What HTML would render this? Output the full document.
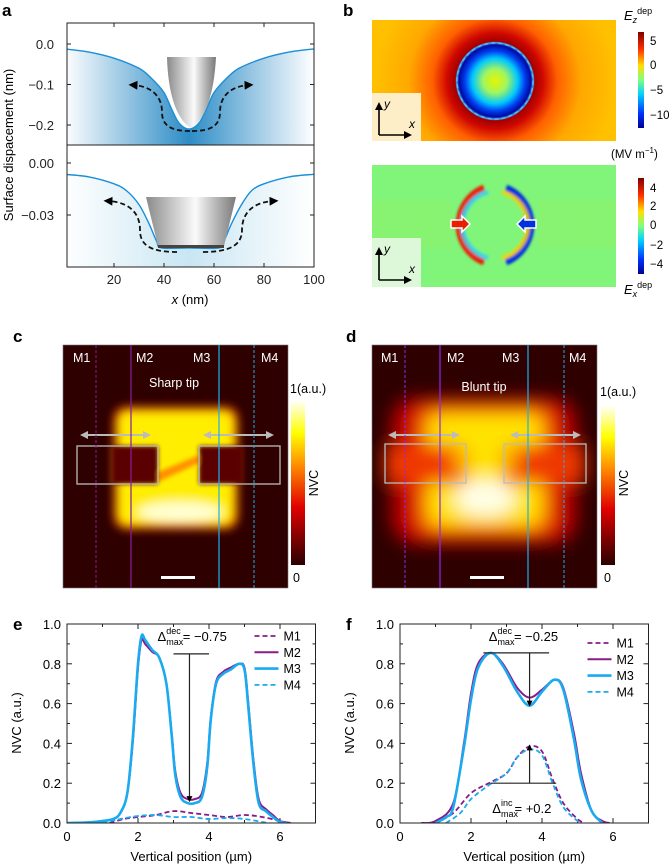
<!DOCTYPE html>
<html><head><meta charset="utf-8">
<style>
html,body{margin:0;padding:0;background:#fff}
svg{display:block;font-family:"Liberation Sans",Arial,sans-serif}
</style></head>
<body>
<svg id="fig" width="669" height="866" viewBox="0 0 669 866" xmlns="http://www.w3.org/2000/svg">
<defs>
<linearGradient id="blueTop" x1="0" x2="1" y1="0" y2="0">
<stop offset="0" stop-color="#fff"/><stop offset="0.5" stop-color="#2d8cc6"/><stop offset="1" stop-color="#fff"/></linearGradient>
<linearGradient id="blueBot" x1="0" x2="1" y1="0" y2="0">
<stop offset="0" stop-color="#fff"/><stop offset="0.5" stop-color="#c9e6f3"/><stop offset="1" stop-color="#fff"/></linearGradient>
<linearGradient id="tipG" x1="0" x2="1">
<stop offset="0" stop-color="#8a8a8a"/><stop offset="0.3" stop-color="#c8c8c8"/><stop offset="0.55" stop-color="#fafafa"/><stop offset="0.8" stop-color="#b0b0b0"/><stop offset="1" stop-color="#7a7a7a"/></linearGradient>
<linearGradient id="jetBar" x1="0" x2="0" y1="1" y2="0">
<stop offset="0" stop-color="#00008f"/><stop offset="0.15" stop-color="#0030ff"/><stop offset="0.35" stop-color="#00d0ff"/><stop offset="0.5" stop-color="#80ff80"/><stop offset="0.65" stop-color="#ffe000"/><stop offset="0.82" stop-color="#ff3000"/><stop offset="1" stop-color="#800000"/></linearGradient>
<linearGradient id="hotBar" x1="0" x2="0" y1="1" y2="0">
<stop offset="0" stop-color="#2a0000"/><stop offset="0.35" stop-color="#e00000"/><stop offset="0.6" stop-color="#ff8a00"/><stop offset="0.8" stop-color="#ffff00"/><stop offset="1" stop-color="#ffffff"/></linearGradient>
<radialGradient id="ezG" cx="495" cy="81" r="120" gradientUnits="userSpaceOnUse">
<stop offset="0" stop-color="#e6f500"/><stop offset="0.1" stop-color="#a0f560"/><stop offset="0.19" stop-color="#00c8ff"/><stop offset="0.25" stop-color="#0040f0"/><stop offset="0.3" stop-color="#0008a0"/><stop offset="0.32" stop-color="#40b0ff"/><stop offset="0.33" stop-color="#a00000"/><stop offset="0.4" stop-color="#d00800"/><stop offset="0.52" stop-color="#ff6000"/><stop offset="0.72" stop-color="#ffa800"/><stop offset="1" stop-color="#ffc000"/></radialGradient>
<filter id="blur6" x="-30%" y="-30%" width="160%" height="160%"><feGaussianBlur stdDeviation="5"/></filter>
<filter id="blur10" x="-40%" y="-40%" width="180%" height="180%"><feGaussianBlur stdDeviation="9"/></filter>
<filter id="blur2"><feGaussianBlur stdDeviation="1.2"/></filter>
<filter id="blur3" x="-20%" y="-20%" width="140%" height="140%"><feGaussianBlur stdDeviation="2"/></filter>
<clipPath id="clipC"><rect x="63" y="345" width="225" height="243"/></clipPath>
<clipPath id="clipD"><rect x="372" y="345" width="225" height="243"/></clipPath>
<clipPath id="clipA1"><rect x="67" y="23" width="247" height="122"/></clipPath>
<clipPath id="clipA2"><rect x="67" y="145" width="247" height="122"/></clipPath>
<clipPath id="clipE"><rect x="67" y="600" width="248" height="223"/></clipPath>
<clipPath id="clipF"><rect x="400" y="600" width="250" height="223"/></clipPath>
<marker id="arrK" viewBox="0 0 10 10" refX="5" refY="5" markerWidth="5" markerHeight="5" orient="auto"><path d="M0,0L10,5L0,10z" fill="#000"/></marker>
<marker id="arrG" viewBox="0 0 10 10" refX="5" refY="5" markerWidth="4" markerHeight="4" orient="auto-start-reverse"><path d="M0,0L10,5L0,10z" fill="#bbb"/></marker>
</defs>

<g font-weight="bold" font-size="17">
<text x="2" y="16">a</text>
<text x="343" y="16">b</text>
<text x="13" y="342">c</text>
<text x="346" y="342">d</text>
<text x="13" y="630">e</text>
<text x="346" y="630">f</text>
</g>

<!-- ============ panel a ============ -->
<g id="panelA">
<g clip-path="url(#clipA1)"><path id="a1fill" fill="url(#blueTop)"/></g>
<g clip-path="url(#clipA2)"><path id="a2fill" fill="url(#blueBot)"/></g>
<path id="a1line" fill="none" stroke="#1a8fd6" stroke-width="1.4" clip-path="url(#clipA1)"/>
<path id="a2line" fill="none" stroke="#1a8fd6" stroke-width="1.4" clip-path="url(#clipA2)"/>
<path d="M167,57 L216,57 C214,95 205,120 191,128 C177,120 168,95 167,57Z" fill="url(#tipG)"/>
<path d="M146,197 L236,197 L224,246 L158,246Z" fill="url(#tipG)"/>
<rect x="158" y="245" width="66" height="3" fill="#444"/>
<g fill="none" stroke="#111" stroke-width="1.8" stroke-dasharray="5,3">
<path d="M190,131 C170,131 162,125 162,112 C162,95 150,86 133,85" marker-end="url(#arrK)"/>
<path d="M192,131 C212,131 220,125 220,112 C220,95 232,86 249,85" marker-end="url(#arrK)"/>
<path d="M177,252 C150,252 140,245 140,230 C140,212 128,202 108,201" marker-end="url(#arrK)"/>
<path d="M203,252 C230,252 242,245 242,230 C242,212 254,202 274,201" marker-end="url(#arrK)"/>
</g>
<rect x="67" y="23" width="247" height="244" fill="none" stroke="#222" stroke-width="1"/>
<line x1="67" y1="145" x2="314" y2="145" stroke="#222"/>
<g id="aTicks" stroke="#222" stroke-width="1"></g>
<g id="aLabels" font-size="13" fill="#222"></g>
<text transform="translate(13,145) rotate(-90)" text-anchor="middle" font-size="13">Surface dispacement (nm)</text>
<text x="190" y="304" text-anchor="middle" font-size="13"><tspan font-style="italic">x</tspan> (nm)</text>
</g>

<!-- ============ panel b ============ -->
<g id="panelB">
<rect x="372" y="20" width="244" height="121" fill="url(#ezG)"/>
<circle cx="495" cy="81" r="38" fill="none" stroke="#5ad0ff" stroke-width="1.5" stroke-dasharray="4,3" opacity="0.7"/>
<rect x="372" y="93" width="49" height="48" fill="#fdeec8"/>
<g stroke="#000" stroke-width="1.6" fill="none"><path d="M379,135 L379,108 M379,135 L406,135"/></g>
<path d="M375,110 L379,102 L383,110Z M404,131 L412,135 L404,139Z" fill="#000"/>
<text x="384" y="108" font-size="12" font-style="italic">y</text>
<text x="409" y="128" font-size="12" font-style="italic">x</text>
<rect x="638" y="32" width="6" height="96" fill="url(#jetBar)"/>
<g font-size="11.5"><text x="650" y="45">5</text><text x="650" y="69">0</text><text x="650" y="94">−5</text><text x="650" y="119">−10</text></g>
<text x="624" y="20" font-size="13"><tspan font-style="italic">E</tspan><tspan font-size="9" dy="3" font-style="italic">z</tspan><tspan font-size="9" dy="-9">dep</tspan></text>
<text x="611" y="158" font-size="11.5">(MV m<tspan font-size="8" dy="-5">−1</tspan><tspan dy="5">)</tspan></text>

<rect x="372" y="165" width="244" height="122" fill="#80f57a"/>
<g opacity="0.18" stroke="#e0e000" stroke-width="1.2">
<path id="ripL"/><path id="ripR"/>
</g>
<g fill="none" filter="url(#blur2)">
<path d="M484,188 A40,40 0 0 0 484,262" stroke="#e82000" stroke-width="7"/>
<path d="M488,192 A34,34 0 0 0 488,258" stroke="#30d0ff" stroke-width="5" opacity="0.8"/>
<path d="M506,188 A40,40 0 0 1 506,262" stroke="#0030e0" stroke-width="7"/>
<path d="M502,192 A34,34 0 0 1 502,258" stroke="#ffd000" stroke-width="5" opacity="0.8"/>
</g>
<path d="M451,220 L462,220 L462,216 L470,224 L462,232 L462,228 L451,228Z" fill="#e82000" stroke="#fff" stroke-width="1.5"/>
<path d="M536,220 L525,220 L525,216 L517,224 L525,232 L525,228 L536,228Z" fill="#0030e0" stroke="#fff" stroke-width="1.5"/>
<rect x="372" y="238" width="49" height="49" fill="#dcf8d8"/>
<g stroke="#000" stroke-width="1.6" fill="none"><path d="M379,280 L379,253 M379,280 L406,280"/></g>
<path d="M375,255 L379,247 L383,255Z M404,276 L412,280 L404,284Z" fill="#000"/>
<text x="384" y="253" font-size="12" font-style="italic">y</text>
<text x="409" y="273" font-size="12" font-style="italic">x</text>
<rect x="638" y="178" width="6" height="96" fill="url(#jetBar)"/>
<g font-size="11.5"><text x="650" y="192">4</text><text x="650" y="210">2</text><text x="650" y="229">0</text><text x="650" y="249">−2</text><text x="650" y="268">−4</text></g>
<text x="624" y="294" font-size="13"><tspan font-style="italic">E</tspan><tspan font-size="9" dy="3" font-style="italic">x</tspan><tspan font-size="9" dy="-9">dep</tspan></text>
</g>

<!-- ============ panel c ============ -->
<g id="panelC">
<g clip-path="url(#clipC)">
<rect x="63" y="345" width="225" height="243" fill="#2e0000"/>
<g filter="url(#blur6)">
<rect x="114" y="407" width="124" height="122" rx="12" fill="#ff2000"/>
<rect x="118" y="411" width="116" height="114" rx="10" fill="#ffee00"/>
<ellipse cx="180" cy="512" rx="42" ry="10" fill="#ffffd0"/>
</g>
<g filter="url(#blur3)">
<rect x="112" y="446" width="46" height="38" fill="#5a0000"/>
<rect x="199" y="446" width="44" height="38" fill="#5a0000"/>
<path d="M158,472 L199,455 L199,463 L158,482Z" fill="#ff9000"/>
</g>
</g>
<rect x="63" y="345" width="225" height="243" fill="none" stroke="#777" stroke-width="0.6"/>
<rect x="77" y="446" width="81" height="38" fill="none" stroke="#bbb" stroke-width="1.3"/>
<rect x="199" y="446" width="81" height="38" fill="none" stroke="#bbb" stroke-width="1.3"/>
<line x1="84" y1="435" x2="147" y2="435" stroke="#bbb" stroke-width="2" marker-start="url(#arrG)" marker-end="url(#arrG)"/>
<line x1="207" y1="435" x2="270" y2="435" stroke="#bbb" stroke-width="2" marker-start="url(#arrG)" marker-end="url(#arrG)"/>
<line x1="96" y1="345" x2="96" y2="588" stroke="#8a1aa0" stroke-width="1" stroke-dasharray="3,2"/>
<line x1="131" y1="345" x2="131" y2="588" stroke="#8a1aa0" stroke-width="1.2"/>
<line x1="219" y1="345" x2="219" y2="588" stroke="#1ab0ef" stroke-width="1.2"/>
<line x1="254" y1="345" x2="254" y2="588" stroke="#1ab0ef" stroke-width="1" stroke-dasharray="3,2"/>
<g fill="#fff" font-size="12.5">
<text x="73" y="362">M1</text><text x="136" y="362">M2</text><text x="193" y="362">M3</text><text x="261" y="362">M4</text>
<text x="174" y="387" text-anchor="middle">Sharp tip</text>
</g>
<rect x="161" y="576" width="34" height="3" fill="#fff"/>
<rect x="291" y="400" width="14" height="165" fill="url(#hotBar)"/>
<text x="290" y="393" font-size="12.5">1(a.u.)</text>
<text x="293" y="582" font-size="12.5">0</text>
<text transform="translate(318,483) rotate(-90)" text-anchor="middle" font-size="12.5">NVC</text>
</g>

<!-- ============ panel d ============ -->
<g id="panelD">
<g clip-path="url(#clipD)">
<rect x="372" y="345" width="225" height="243" fill="#2e0000"/>
<g filter="url(#blur10)">
<rect x="392" y="398" width="184" height="146" rx="24" fill="#c80000"/>
<rect x="418" y="406" width="134" height="128" rx="16" fill="#ff5a00"/>
<rect x="428" y="414" width="114" height="112" rx="12" fill="#ffe400"/>
<rect x="385" y="445" width="81" height="38" fill="#f03800"/>
<rect x="504" y="445" width="81" height="38" fill="#f03800"/>
<ellipse cx="462" cy="458" rx="10" ry="14" fill="#ffb000"/>
<ellipse cx="508" cy="458" rx="10" ry="14" fill="#ffb000"/>
<ellipse cx="485" cy="498" rx="30" ry="18" fill="#ffffe8"/>
</g>
</g>
<rect x="372" y="345" width="225" height="243" fill="none" stroke="#777" stroke-width="0.6"/>
<rect x="385" y="444" width="81" height="39" fill="none" stroke="#bbb" stroke-width="1.3"/>
<rect x="504" y="444" width="82" height="39" fill="none" stroke="#bbb" stroke-width="1.3"/>
<line x1="392" y1="435" x2="456" y2="435" stroke="#bbb" stroke-width="2" marker-start="url(#arrG)" marker-end="url(#arrG)"/>
<line x1="514" y1="435" x2="577" y2="435" stroke="#bbb" stroke-width="2" marker-start="url(#arrG)" marker-end="url(#arrG)"/>
<line x1="405" y1="345" x2="405" y2="588" stroke="#8a2af0" stroke-width="1" stroke-dasharray="3,2"/>
<line x1="440" y1="345" x2="440" y2="588" stroke="#8a2af0" stroke-width="1.2"/>
<line x1="528" y1="345" x2="528" y2="588" stroke="#1ab0ef" stroke-width="1.2"/>
<line x1="564" y1="345" x2="564" y2="588" stroke="#1ab0ef" stroke-width="1" stroke-dasharray="3,2"/>
<g fill="#fff" font-size="12.5">
<text x="381" y="362">M1</text><text x="447" y="362">M2</text><text x="502" y="362">M3</text><text x="569" y="362">M4</text>
<text x="484" y="391" text-anchor="middle">Blunt tip</text>
</g>
<rect x="470" y="576" width="34" height="3" fill="#fff"/>
<rect x="601" y="405" width="14" height="160" fill="url(#hotBar)"/>
<text x="600" y="396" font-size="12.5">1(a.u.)</text>
<text x="604" y="582" font-size="12.5">0</text>
<text transform="translate(628,483) rotate(-90)" text-anchor="middle" font-size="12.5">NVC</text>
</g>

<g id="panelE"></g>
<g id="panelF"></g>
</svg>

<script>
// ---------- panel a data ----------
const aTopX = [0,10,20,30,35,40,43,46,50,54,57,60,65,70,80,90,100];
const aTopY = [-0.012,-0.02,-0.035,-0.06,-0.085,-0.12,-0.16,-0.195,-0.21,-0.195,-0.16,-0.12,-0.085,-0.06,-0.035,-0.02,-0.012];
const aBotX = [0,10,20,25,30,34,37,39,50,62,64,67,71,75,80,90,100];
const aBotY = [-0.0065,-0.008,-0.012,-0.016,-0.024,-0.035,-0.045,-0.049,-0.049,-0.049,-0.045,-0.035,-0.024,-0.016,-0.012,-0.008,-0.0065];
const aXTicks = [20,40,60,80,100];
const aTopTicks = [0.0,-0.1,-0.2];
const aTopTickLabels = ["0.0","−0.1","−0.2"];
const aBotTicks = [0.00,-0.03];
const aBotTickLabels = ["0.00","−0.03"];

// ---------- panel e data ----------
const eM1x = [1.2,1.6,2.0,2.5,3.0,3.5,4.0,4.5,5.0,5.5,6.0,6.3];
const eM1y = [0,0.02,0.03,0.04,0.06,0.05,0.04,0.03,0.04,0.03,0.01,0];
const eM2x = [0,0.5,1.0,1.3,1.5,1.7,1.85,2.0,2.1,2.2,2.4,2.6,2.8,2.95,3.05,3.2,3.4,3.6,3.8,3.95,4.05,4.2,4.4,4.6,4.85,5.0,5.1,5.25,5.4,5.6,5.8,6.0,6.3];
const eM2y = [0,0.002,0.01,0.02,0.05,0.15,0.4,0.78,0.92,0.9,0.86,0.83,0.7,0.45,0.26,0.15,0.12,0.12,0.15,0.3,0.53,0.71,0.76,0.78,0.8,0.78,0.62,0.32,0.12,0.07,0.04,0.01,0];
const eM3x = [0,0.5,1.0,1.3,1.5,1.7,1.85,2.0,2.1,2.2,2.4,2.6,2.8,2.95,3.05,3.2,3.4,3.6,3.8,3.95,4.05,4.2,4.4,4.6,4.85,5.0,5.1,5.25,5.4,5.6,5.8,6.0,6.2];
const eM3y = [0,0.002,0.01,0.02,0.05,0.15,0.42,0.8,0.94,0.92,0.87,0.83,0.7,0.44,0.24,0.13,0.1,0.1,0.13,0.28,0.52,0.7,0.75,0.77,0.8,0.77,0.6,0.3,0.1,0.06,0.03,0.005,0];
const eM4x = [1.0,1.5,2.0,2.5,3.0,3.5,4.0,4.5,5.0,5.5,5.7];
const eM4y = [0,0.02,0.035,0.04,0.03,0.03,0.02,0.025,0.02,0.005,0];

// ---------- panel f data ----------
const fM1x = [1.0,1.5,2.0,2.5,3.0,3.3,3.65,4.0,4.3,4.6,5.0,5.2];
const fM1y = [0,0.05,0.15,0.2,0.25,0.33,0.385,0.36,0.22,0.1,0.02,0];
const fM2x = [0.6,1.0,1.5,1.8,2.0,2.2,2.55,2.9,3.3,3.65,4.0,4.35,4.6,4.9,5.1,5.4,5.7,5.9];
const fM2y = [0,0.01,0.1,0.4,0.65,0.8,0.855,0.8,0.68,0.63,0.67,0.72,0.68,0.45,0.25,0.06,0.01,0];
const fM3x = [1.0,1.3,1.5,1.8,2.0,2.2,2.55,2.9,3.3,3.65,4.0,4.35,4.6,4.9,5.1,5.4,5.7];
const fM3y = [0,0.03,0.08,0.38,0.62,0.78,0.855,0.79,0.66,0.59,0.66,0.72,0.67,0.42,0.22,0.06,0];
const fM4x = [1.3,1.7,2.0,2.5,3.0,3.3,3.65,4.0,4.3,4.6,5.0,5.1];
const fM4y = [0,0.05,0.12,0.19,0.25,0.33,0.37,0.34,0.2,0.08,0.01,0];

const xTicks = [0,2,4,6];
const yTicks = [0,0.2,0.4,0.6,0.8,1.0];
const yTickLabels = ["0.0","0.2","0.4","0.6","0.8","1.0"];
const seriesNames = ["M1","M2","M3","M4"];

const NS = "http://www.w3.org/2000/svg";
function mk(tag, parent, attrs){ const e=document.createElementNS(NS,tag); for(const k in attrs) e.setAttribute(k,attrs[k]); parent.appendChild(e); return e; }
function smooth(pts){
  let d="M"+pts[0][0].toFixed(1)+","+pts[0][1].toFixed(1);
  for(let i=0;i<pts.length-1;i++){
    const p0=pts[Math.max(0,i-1)],p1=pts[i],p2=pts[i+1],p3=pts[Math.min(pts.length-1,i+2)];
    const c1=[p1[0]+(p2[0]-p0[0])/6,p1[1]+(p2[1]-p0[1])/6];
    const c2=[p2[0]-(p3[0]-p1[0])/6,p2[1]-(p3[1]-p1[1])/6];
    d+=" C"+c1[0].toFixed(1)+","+c1[1].toFixed(1)+" "+c2[0].toFixed(1)+","+c2[1].toFixed(1)+" "+p2[0].toFixed(1)+","+p2[1].toFixed(1);
  }
  return d;
}

const axX = v => 64 + v*2.5;
const axTopY = v => 44 - v*405;
const axBotY = v => 163 - v*1733;
(function(){
  const t = aTopX.map((x,i)=>[axX(x),axTopY(aTopY[i])]);
  const b = aBotX.map((x,i)=>[axX(x),axBotY(aBotY[i])]);
  document.getElementById('a1line').setAttribute('d',smooth(t));
  document.getElementById('a2line').setAttribute('d',smooth(b));
  document.getElementById('a1fill').setAttribute('d',smooth(t)+" L"+axX(100)+",145 L"+axX(0)+",145Z");
  document.getElementById('a2fill').setAttribute('d',smooth(b)+" L"+axX(100)+",267 L"+axX(0)+",267Z");
  const tk=document.getElementById('aTicks'), lb=document.getElementById('aLabels');
  aXTicks.forEach(v=>{
    mk('line',tk,{x1:axX(v),x2:axX(v),y1:267,y2:263});
    mk('line',tk,{x1:axX(v),x2:axX(v),y1:23,y2:27});
    const t=mk('text',lb,{x:axX(v),y:284,'text-anchor':'middle'}); t.textContent=v;
    
    
  });
  aTopTicks.forEach((v,i)=>{
    mk('line',tk,{x1:67,x2:71,y1:axTopY(v),y2:axTopY(v)});
    mk('line',tk,{x1:314,x2:310,y1:axTopY(v),y2:axTopY(v)});
    const t=mk('text',lb,{x:54,y:axTopY(v)+5,'text-anchor':'end'}); t.textContent=aTopTickLabels[i];
    
    
  });
  aBotTicks.forEach((v,i)=>{
    mk('line',tk,{x1:67,x2:71,y1:axBotY(v),y2:axBotY(v)});
    mk('line',tk,{x1:314,x2:310,y1:axBotY(v),y2:axBotY(v)});
    const t=mk('text',lb,{x:54,y:axBotY(v)+5,'text-anchor':'end'}); t.textContent=aBotTickLabels[i];
    
    
  });
})();

(function(){
  let dl="",dr="";
  for(let x=374;x<452;x+=3){ dl+="M"+x+",200 L"+x+",248 "; }
  for(let x=540;x<616;x+=3){ dr+="M"+x+",200 L"+x+",248 "; }
  document.getElementById('ripL').setAttribute('d',dl);
  document.getElementById('ripR').setAttribute('d',dr);
})();

const purple="#8b1a89", cyan="#1aaaf0";
function drawPanel(gid, x0, xs, ys, annot){
  const g=document.getElementById(gid);
  const sx=v=>x0+v*35.5, sy=v=>823-v*199;
  const right=sx(7);
  const styles=[{c:purple,w:1.8,d:"5,3"},{c:purple,w:2,d:null},{c:cyan,w:2.6,d:null},{c:cyan,w:1.8,d:"5,3"}];
  for(let v=0;v<=7;v++){
    const major = v%2===0;
    mk('line',g,{x1:sx(v),x2:sx(v),y1:823,y2:823-(major?5:3),stroke:"#222"});
    mk('line',g,{x1:sx(v),x2:sx(v),y1:624,y2:624+(major?5:3),stroke:"#222"});
  }
  for(let k=0;k<=10;k++){
    const v=k/10, major=k%2===0;
    mk('line',g,{x1:x0,x2:x0+(major?5:3),y1:sy(v),y2:sy(v),stroke:"#222"});
    mk('line',g,{x1:right,x2:right-(major?5:3),y1:sy(v),y2:sy(v),stroke:"#222"});
  }
  xTicks.forEach(v=>{
    const t=mk('text',g,{x:sx(v),y:841,'text-anchor':'middle','font-size':13}); t.textContent=v;
    
    
  });
  yTicks.forEach((v,i)=>{
    const t=mk('text',g,{x:x0-6,y:sy(v)+5,'text-anchor':'end','font-size':13}); t.textContent=yTickLabels[i];
    
    
  });
  const cg=mk('g',g,{'clip-path':gid==='panelE'?'url(#clipE)':'url(#clipF)'});
  xs.forEach((arr,i)=>{
    const pts=arr.map((x,j)=>[sx(x),sy(ys[i][j])]);
    const p=mk('path',cg,{d:smooth(pts),fill:'none',stroke:styles[i].c,'stroke-width':styles[i].w});
    if(styles[i].d) p.setAttribute('stroke-dasharray',styles[i].d);
    
    
  });
  mk('rect',g,{x:x0,y:624,width:right-x0,height:199,fill:'none',stroke:'#222'});
  const ly0 = gid==='panelE'?636:643;
  seriesNames.forEach((n,i)=>{
    const y=ly0+i*16.3;
    const l=mk('line',g,{x1:right-61,x2:right-37,y1:y,y2:y,stroke:styles[i].c,'stroke-width':styles[i].w});
    if(styles[i].d) l.setAttribute('stroke-dasharray',styles[i].d);
    const t=mk('text',g,{x:right-32,y:y+4.5,'font-size':12.5}); t.textContent=n;
    
    
  });
  const xt=mk('text',g,{x:(x0+right)/2,y:861,'text-anchor':'middle','font-size':13}); xt.textContent="Vertical position (µm)";
  
  
  const yt=mk('text',g,{transform:'translate('+(x0-46)+',723) rotate(-90)','text-anchor':'middle','font-size':13}); yt.textContent="NVC (a.u.)";
  
  
  annot(g,sx,sy);
}
function deltaText(g,x,y,sup,val){
  const t=mk('text',g,{x:x,y:y,'font-size':13});
  t.innerHTML='Δ<tspan font-size="9" dy="4">max</tspan><tspan font-size="9" dx="-17" dy="-11">'+sup+'</tspan><tspan dx="2" dy="7">= '+val+'</tspan>';
  
  
}
drawPanel('panelE',67,[eM1x,eM2x,eM3x,eM4x],[eM1y,eM2y,eM3y,eM4y],(g,sx,sy)=>{
  mk('line',g,{x1:sx(3.0),x2:sx(4.0),y1:sy(0.85),y2:sy(0.85),stroke:'#222','stroke-width':1.2});
  mk('line',g,{x1:sx(3.45),x2:sx(3.45),y1:sy(0.85),y2:sy(0.12),stroke:'#222','stroke-width':1.2,'marker-end':'url(#arrK)'});
  deltaText(g,sx(2.55),641,'dec','−0.75');
});
drawPanel('panelF',400,[fM1x,fM2x,fM3x,fM4x],[fM1y,fM2y,fM3y,fM4y],(g,sx,sy)=>{
  mk('line',g,{x1:sx(2.35),x2:sx(4.2),y1:sy(0.855),y2:sy(0.855),stroke:'#222','stroke-width':1.2});
  mk('line',g,{x1:sx(3.65),x2:sx(3.65),y1:sy(0.855),y2:sy(0.6),stroke:'#222','stroke-width':1.2,'marker-end':'url(#arrK)'});
  mk('line',g,{x1:sx(2.55),x2:sx(4.4),y1:sy(0.2),y2:sy(0.2),stroke:'#222','stroke-width':1.2});
  mk('line',g,{x1:sx(3.65),x2:sx(3.65),y1:sy(0.2),y2:sy(0.38),stroke:'#222','stroke-width':1.2,'marker-end':'url(#arrK)'});
  deltaText(g,sx(2.5),641,'dec','−0.25');
  deltaText(g,sx(2.6),813,'inc','+0.2');
});
</script>
</body></html>
